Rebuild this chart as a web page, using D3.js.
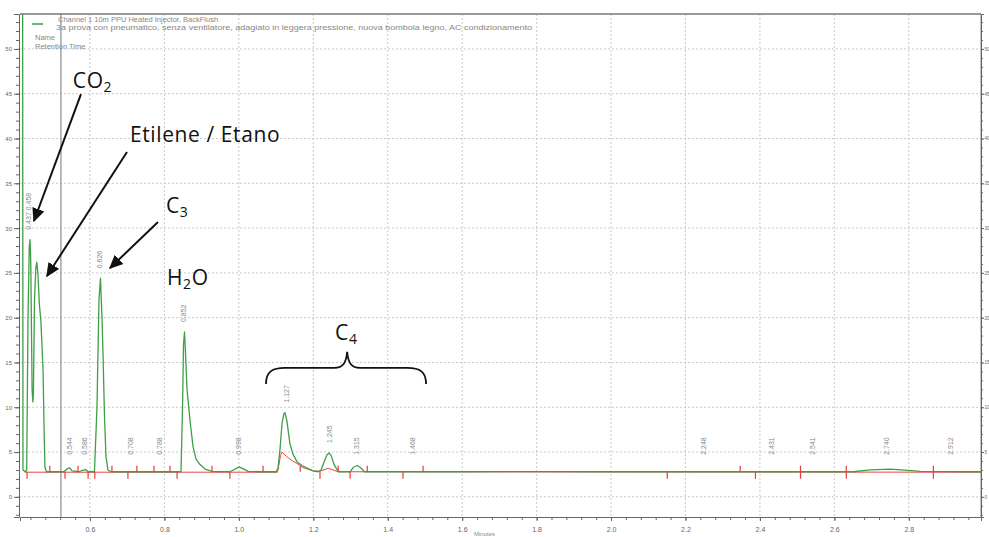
<!DOCTYPE html>
<html>
<head>
<meta charset="utf-8">
<script src="https://cdn.jsdelivr.net/npm/d3@7"></script>
<style>
  body { margin: 0; background: #fff; }
  svg { display: block; }
</style>
</head>
<body>
<svg id="chart" width="989" height="537"></svg>
<script>
// Detector signal (time in minutes, signal) — channel 1 trace
const signal = [
  [0.412, 60], [0.4190, 60], [0.4200, 3.0], [0.4255, 2.8], [0.4300, 3.0],
  [0.4335, 20], [0.4370, 28.0], [0.4390, 28.7], [0.4410, 26.0], [0.4445, 12.0],
  [0.4465, 10.6], [0.4480, 11.5], [0.4510, 22.0], [0.4545, 25.5], [0.4570, 26.2],
  [0.4600, 25.0], [0.4640, 21.5], [0.4680, 19.7], [0.4710, 17.0], [0.4740, 14.0],
  [0.4770, 7.0], [0.4790, 3.3], [0.4830, 2.8],
  [0.500, 2.8], [0.530, 2.8], [0.538, 3.1], [0.545, 3.25], [0.552, 2.9],
  [0.570, 2.8], [0.580, 2.95], [0.588, 3.05], [0.595, 2.8], [0.612, 2.8],
  [0.6188, 10.0], [0.6242, 22.0], [0.6282, 24.4], [0.6323, 20.0], [0.6350, 16.0],
  [0.6390, 9.0], [0.6430, 4.5], [0.6484, 3.0], [0.6565, 2.8],
  [0.700, 2.8], [0.800, 2.8], [0.8446, 2.8],
  [0.8487, 10.0], [0.8513, 17.0], [0.8540, 18.4], [0.8567, 16.0], [0.8608, 12.0],
  [0.8688, 8.5], [0.8769, 5.6], [0.8850, 4.2], [0.8957, 3.6], [0.9091, 3.1],
  [0.9280, 2.85],
  [0.976, 2.8], [0.990, 3.1], [1.0005, 3.35], [1.011, 3.15], [1.025, 2.85],
  [1.060, 2.8], [1.100, 2.8],
  [1.1054, 3.2], [1.111, 5.5], [1.116, 8.2], [1.121, 9.3], [1.124, 9.4],
  [1.129, 8.5], [1.137, 6.0], [1.145, 4.8], [1.1565, 3.9], [1.170, 3.5],
  [1.183, 3.2], [1.1995, 2.9], [1.213, 2.8],
  [1.221, 3.0], [1.229, 3.9], [1.237, 4.7], [1.2425, 4.9], [1.248, 4.6],
  [1.256, 3.6], [1.267, 2.8],
  [1.299, 2.8], [1.3075, 3.3], [1.318, 3.5], [1.329, 3.2], [1.337, 2.8],
  [1.400, 2.8], [1.600, 2.8], [1.800, 2.82], [2.000, 2.8], [2.200, 2.8],
  [2.400, 2.8], [2.651, 2.8], [2.697, 3.0], [2.750, 3.1], [2.799, 2.95],
  [2.831, 2.85], [2.994, 2.8]
];

// Integration baseline
const baselineFit = [
  [0.426, 2.75], [1.104, 2.75], [1.112, 4.6], [1.116, 5.0], [1.128, 4.5],
  [1.145, 4.0], [1.165, 3.5], [1.170, 3.3], [1.200, 2.9], [1.218, 2.85],
  [1.240, 3.2], [1.267, 2.8], [2.994, 2.75]
];

// Integration event marks: [time, direction] (1 up, -1 down, 0 both)
const integrationMarks = [
  [0.431, -1], [0.492, 1], [0.533, -1], [0.568, 1], [0.595, -1], [0.613, -1],
  [0.659, 1], [0.702, -1], [0.726, 1], [0.772, 1], [0.815, 1], [0.834, -1],
  [0.928, 1], [0.976, -1], [1.065, 1], [1.165, 1], [1.218, -1], [1.267, 1],
  [1.299, -1], [1.345, 1], [1.441, -1], [1.495, 1], [2.151, -1], [2.347, 1],
  [2.388, -1], [2.509, 0], [2.632, 0], [2.866, 0]
];

// Retention time labels
const peakTimes = [0.434, 0.544, 0.586, 0.625, 0.708, 0.788, 0.852, 0.998,
  1.127, 1.245, 1.315, 1.468, 2.248, 2.431, 2.541, 2.740, 2.912];
const peakTexts = ["0.437 0.458", "0.544", "0.586", "0.626", "0.708", "0.788",
  "0.852", "0.998", "1.127", "1.245", "1.315", "1.468", "2.248", "2.431",
  "2.541", "2.740", "2.912"];

// Axis ticks
const xMajorTicks = [0.6, 0.8, 1.0, 1.2, 1.4, 1.6, 1.8, 2.0, 2.2, 2.4, 2.6, 2.8];
const yMajorTicks = [0, 5, 10, 15, 20, 25, 30, 35, 40, 45, 50];
const markerTime = 0.522;
const baselineLevel = 2.8;

// Compound annotations (text in data coordinates)
const compounds = [
  { main: "CO", sub: "2", after: "", t: 0.554, v: 45.6 },
  { main: "Etilene / Etano", sub: "", after: "", t: 0.7075, v: 39.6 },
  { main: "C", sub: "3", after: "", t: 0.804, v: 31.7 },
  { main: "H", sub: "2", after: "O", t: 0.807, v: 23.6 },
  { main: "C", sub: "4", after: "", t: 1.2586, v: 17.5 }
];
const arrows = [
  { from: [0.5758, 44.96], to: [0.4495, 30.79] },
  { from: [0.6995, 38.49], to: [0.4844, 24.65] },
  { from: [0.7828, 30.68], to: [0.6538, 25.54] }
];
const brace = { t0: 1.073, t1: 1.503, tm: 1.291, vEnd: 12.6, vTop: 14.4, vTip: 16.2 };

const headerLines = [
  "Channel 1 10m PPU Heated Injector, BackFlush",
  "3a prova con pneumatico, senza ventilatore, adagiato in leggera pressione, nuova bombola legno, AC condizionamento"
];

// ---- layout
const svg = d3.select("#chart");
const pL = 20, pR = 981, pT = 14, pB = 517;
const x = d3.scaleLinear().domain([0.412, 2.994]).range([pL, pR]);
const y = d3.scaleLinear().domain([-2.25, 53.9]).range([pB, pT]);

const defs = svg.append("defs");
defs.append("clipPath").attr("id", "plotClip")
  .append("rect").attr("x", pL).attr("y", pT).attr("width", pR - pL).attr("height", pB - pT);

const marker = defs.append("marker")
  .attr("id", "arrowHead").attr("viewBox", "0 0 10 10")
  .attr("refX", 9).attr("refY", 5).attr("markerWidth", 7).attr("markerHeight", 7)
  .attr("markerUnits", "strokeWidth").attr("orient", "auto");
marker.append("path").attr("d", "M0,0.5 L10,5 L0,9.5 Z").attr("fill", "#111");

// grid
const grid = svg.append("g").attr("stroke", "#bdbdbd").attr("stroke-width", 0.8).attr("stroke-dasharray", "2,2");
grid.selectAll("line.v").data(xMajorTicks).join("line").attr("class", "v")
  .attr("x1", d => x(d)).attr("x2", d => x(d)).attr("y1", pT).attr("y2", pB);
grid.selectAll("line.h").data(yMajorTicks).join("line").attr("class", "h")
  .attr("x1", pL).attr("x2", pR).attr("y1", d => y(d)).attr("y2", d => y(d));

// frame
svg.append("line").attr("x1", pL).attr("x2", pR).attr("y1", pT).attr("y2", pT)
  .attr("stroke", "#999").attr("stroke-width", 2);
svg.append("line").attr("x1", pR).attr("x2", pR).attr("y1", pT).attr("y2", pB)
  .attr("stroke", "#888").attr("stroke-width", 1);

// axes
const fmtX = d3.format(".1f");
const xMinor = d3.range(0.44, 2.9901, 0.04);
const xAxis = svg.append("g").attr("transform", `translate(0,${pB})`)
  .call(d3.axisBottom(x).tickValues(xMajorTicks).tickFormat(fmtX).tickSize(4).tickPadding(6));
svg.append("g").attr("transform", `translate(0,${pB})`)
  .call(d3.axisBottom(x).tickValues(xMinor).tickFormat("").tickSize(3))
  .call(g => g.select(".domain").remove());

const yMinor = d3.range(-2, 54, 1);
const yAxis = svg.append("g").attr("transform", `translate(${pL - 1},0)`)
  .call(d3.axisLeft(y).tickValues(yMajorTicks).tickSize(5).tickPadding(2));
svg.append("g").attr("transform", `translate(${pL - 1},0)`)
  .call(d3.axisLeft(y).tickValues(yMinor).tickFormat("").tickSize(3))
  .call(g => g.select(".domain").remove());
const yAxisR = svg.append("g").attr("transform", `translate(${pR},0)`)
  .call(d3.axisRight(y).tickValues(yMajorTicks).tickSize(3).tickPadding(0.5));
svg.append("g").attr("transform", `translate(${pR},0)`)
  .call(d3.axisRight(y).tickValues(yMinor).tickFormat("").tickSize(2))
  .call(g => g.select(".domain").remove());

svg.selectAll(".tick line").attr("stroke", "#666");
svg.selectAll(".domain").attr("stroke", "#666");
svg.selectAll(".tick text").attr("fill", "#666").attr("font-family", "Liberation Sans, Arial, sans-serif");
xAxis.selectAll(".tick text").attr("font-size", 7);
yAxis.selectAll(".tick text").attr("font-size", 6);
yAxisR.selectAll(".tick text").attr("font-size", 4.5);

svg.append("text").attr("x", x(1.66)).attr("y", 536).attr("text-anchor", "middle")
  .attr("font-family", "Liberation Sans, Arial, sans-serif").attr("font-size", 6).attr("fill", "#888")
  .text("Minutes");

// event marker line
svg.append("line").attr("x1", x(markerTime)).attr("x2", x(markerTime)).attr("y1", pT).attr("y2", pB)
  .attr("stroke", "#777").attr("stroke-width", 1);

// traces
const plot = svg.append("g").attr("clip-path", "url(#plotClip)");
const line = d3.line().x(d => x(d[0])).y(d => y(d[1]));
plot.append("path").datum(baselineFit).attr("d", line)
  .attr("fill", "none").attr("stroke", "#ee4444").attr("stroke-width", 1);
plot.append("path").datum(signal).attr("d", line)
  .attr("fill", "none").attr("stroke", "#3f9f46").attr("stroke-width", 1.3).attr("stroke-linejoin", "round");

// integration marks
plot.selectAll("line.mark").data(integrationMarks).join("line").attr("class", "mark")
  .attr("stroke", "#e83a3a").attr("stroke-width", 1.2)
  .attr("x1", d => x(d[0])).attr("x2", d => x(d[0]))
  .attr("y1", d => y(baselineLevel) + (d[1] === 1 ? 0 : 7))
  .attr("y2", d => y(baselineLevel) - (d[1] === -1 ? 0 : 6));

// retention time labels, placed above the local signal maximum
const peakLabels = peakTimes.map((t, i) => {
  const near = signal.filter(p => Math.abs(p[0] - t) <= 0.006).map(p => p[1]);
  const peakTop = near.length ? d3.max(near) : baselineLevel;
  return { t, text: peakTexts[i], yb: Math.min(y(peakTop) - 10, y(baselineLevel) - 17) };
});
svg.selectAll("text.rt").data(peakLabels).join("text")
  .attr("class", "rt")
  .attr("transform", d => `translate(${x(d.t)},${d.yb}) rotate(-90)`)
  .attr("dy", "0.35em")
  .attr("font-family", "Liberation Sans, Arial, sans-serif").attr("font-size", 7)
  .attr("fill", "#8a8a8a").text(d => d.text);

// header
const hdr = svg.append("g").attr("font-family", "Liberation Sans, Arial, sans-serif").attr("fill", "#888");
svg.append("line").attr("x1", 32).attr("x2", 43).attr("y1", 24).attr("y2", 24)
  .attr("stroke", "#3f9f46").attr("stroke-width", 1.5);
hdr.append("text").attr("x", 58).attr("y", 22).attr("font-size", 7.5).text(headerLines[0]);
hdr.append("text").attr("x", 56).attr("y", 30).attr("font-size", 7.5)
  .attr("textLength", 476).attr("lengthAdjust", "spacingAndGlyphs").text(headerLines[1]);
hdr.append("text").attr("x", 35).attr("y", 40).attr("font-size", 7.5).text("Name");
hdr.append("text").attr("x", 35).attr("y", 49).attr("font-size", 7.5).text("Retention Time");

// compound annotations
const ann = svg.append("g").attr("font-family", "Open Sans, sans-serif").attr("fill", "#111")
  .attr("letter-spacing", 0.6);
compounds.forEach(c => {
  const t = ann.append("text").attr("x", x(c.t)).attr("y", y(c.v)).attr("font-size", 21);
  t.append("tspan").text(c.main);
  if (c.sub) t.append("tspan").attr("font-size", 14).attr("dy", 4).text(c.sub);
  if (c.after) t.append("tspan").attr("dy", -4).text(c.after);
});
svg.selectAll("line.arrow").data(arrows).join("line").attr("class", "arrow")
  .attr("x1", d => x(d.from[0])).attr("y1", d => y(d.from[1]))
  .attr("x2", d => x(d.to[0])).attr("y2", d => y(d.to[1]))
  .attr("stroke", "#111").attr("stroke-width", 2).attr("marker-end", "url(#arrowHead)");

// brace over the C4 group
const bx0 = x(brace.t0), bx1 = x(brace.t1), bxm = x(brace.tm);
const byE = y(brace.vEnd), byT = y(brace.vTop), byP = y(brace.vTip);
svg.append("path")
  .attr("d", `M${bx0},${byE} C${bx0},${byT + 4} ${bx0 + 6},${byT} ${bx0 + 19},${byT}
    L${bxm - 13},${byT} C${bxm - 4},${byT} ${bxm - 1},${byT - 5} ${bxm},${byP}
    C${bxm + 1},${byT - 5} ${bxm + 4},${byT} ${bxm + 13},${byT}
    L${bx1 - 19},${byT} C${bx1 - 6},${byT} ${bx1},${byT + 4} ${bx1},${byE}`)
  .attr("fill", "none").attr("stroke", "#111").attr("stroke-width", 1.8);
</script>
</body>
</html>
